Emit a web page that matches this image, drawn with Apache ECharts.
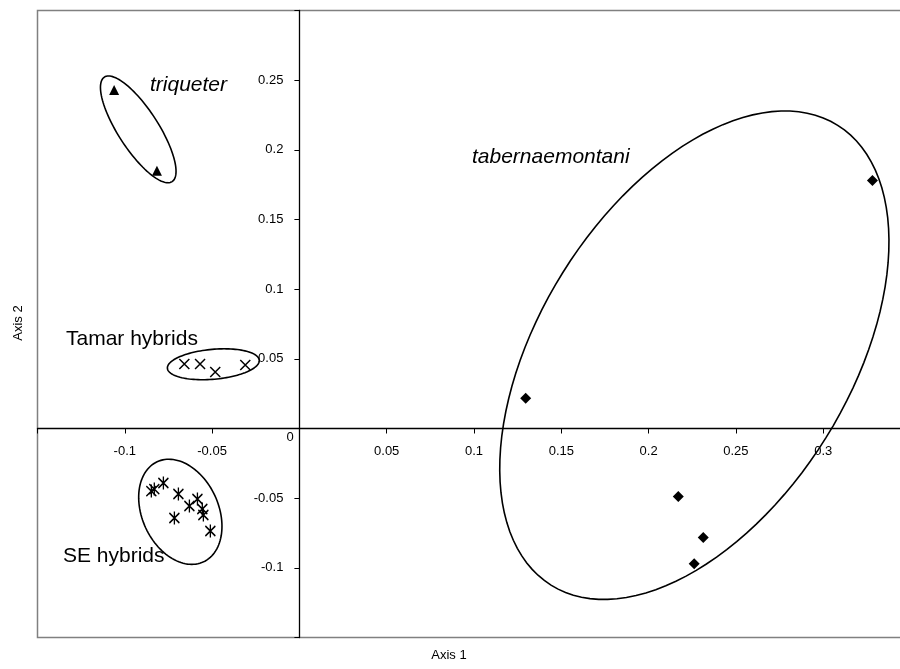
<!DOCTYPE html>
<html>
<head>
<meta charset="utf-8">
<script src="https://cdn.jsdelivr.net/npm/echarts@6/dist/echarts.min.js"></script>
<style>html,body{margin:0;padding:0;background:#fff}#c{width:900px;height:669px}</style>
</head>
<body>
<div id="c"></div>
<script>
// ---- data ----
const triqueterX = [-0.1061, -0.0816];
const triqueterY = [0.2430, 0.1850];
const tamarX = [-0.0659, -0.0569, -0.0482, -0.0310];
const tamarY = [0.0463, 0.0463, 0.0405, 0.0456];
const seX = [-0.0848, -0.0831, -0.0779, -0.0693, -0.0630, -0.0584, -0.0556, -0.0550, -0.0716, -0.0510];
const seY = [-0.0449, -0.0435, -0.0391, -0.0470, -0.0556, -0.0506, -0.0578, -0.0621, -0.0642, -0.0736];
const tabX = [0.1296, 0.2170, 0.2313, 0.2261, 0.3282];
const tabY = [0.0218, -0.0488, -0.0783, -0.0970, 0.1780];
// ellipses: [centreX, centreY, axis1EndX, axis1EndY, axis2EndX, axis2EndY]
const ellipseTriqueter = [-0.0923, 0.2147, -0.0729, 0.1772, -0.1019, 0.2068];
const ellipseTamar = [-0.0493, 0.0461, -0.0230, 0.0490, -0.0486, 0.0354];
const ellipseSE = [-0.0682, -0.0598, -0.0549, -0.0957, -0.0880, -0.0714];
const ellipseTab = [0.2262, 0.0526, 0.3083, 0.2176, 0.3016, -0.0066];
const xTicks = {min: -0.15, max: 0.35, step: 0.05};
const yTicks = {min: -0.15, max: 0.30, step: 0.05};

const zip = (xs, ys) => xs.map((x, i) => [x, ys[i]]);
const FONT = "'Liberation Sans', Arial, sans-serif";
const fmt = v => parseFloat(v.toFixed(3)).toString();

const GRID = {left: 37.5, top: 10.5, width: 873, height: 627};
// axes cross at zero: shift each axis from its grid edge to the zero line
const xAxisOffset = -GRID.height * (0 - yTicks.min) / (yTicks.max - yTicks.min);
const yAxisOffset = -GRID.width * (0 - xTicks.min) / (xTicks.max - xTicks.min);

const chart = echarts.init(document.getElementById('c'));
const crossPath = 'path://M0,0L10,10M10,0L0,10';
const starPath = 'path://M0,0L10,10M10,0L0,10M5,-1.5L5,11.5';

function ellipseItem(params, api) {
  const c = api.coord([api.value(0), api.value(1)]);
  const a = api.coord([api.value(2), api.value(3)]);
  const b = api.coord([api.value(4), api.value(5)]);
  const pts = [];
  const n = 120;
  for (let i = 0; i < n; i++) {
    const t = i / n * Math.PI * 2;
    pts.push([
      c[0] + (a[0] - c[0]) * Math.cos(t) + (b[0] - c[0]) * Math.sin(t),
      c[1] + (a[1] - c[1]) * Math.cos(t) + (b[1] - c[1]) * Math.sin(t)
    ]);
  }
  return {type: 'polygon', shape: {points: pts}, style: {fill: 'none', stroke: '#000', lineWidth: 1.6}};
}

const axisCommon = {
  axisTick: {show: true, length: 5, lineStyle: {color: '#000', width: 1}},
  splitLine: {show: false}
};

chart.setOption({
  animation: false,
  grid: Object.assign({show: true, borderColor: '#808080', borderWidth: 1.5, backgroundColor: '#fff', containLabel: false, outerBoundsMode: 'none'}, GRID),
  xAxis: Object.assign({
    type: 'value', min: xTicks.min, max: xTicks.max, interval: xTicks.step,
    position: 'bottom', offset: xAxisOffset,
    axisLine: {onZero: false, lineStyle: {color: '#000', width: 1.3}},
    axisLabel: {
      margin: 16, color: '#000', fontSize: 13, fontFamily: FONT,
      formatter: v => (Math.abs(v) < 1e-9 || v < -0.14 || v > 0.34) ? '' : fmt(v)
    }
  }, axisCommon),
  yAxis: Object.assign({
    type: 'value', min: yTicks.min, max: yTicks.max, interval: yTicks.step,
    position: 'left', offset: yAxisOffset,
    axisLine: {onZero: false, lineStyle: {color: '#000', width: 1.3}},
    axisLabel: {
      margin: 16, color: '#000', fontSize: 13, fontFamily: FONT,
      formatter: v => (Math.abs(v) < 1e-9 || v < -0.14 || v > 0.29) ? '' : fmt(v)
    }
  }, axisCommon),
  series: [
    {type: 'custom', renderItem: ellipseItem, encode: {x: [0, 2, 4], y: [1, 3, 5]},
     data: [ellipseTriqueter, ellipseTamar, ellipseSE, ellipseTab], z: 2, silent: true, clip: false},
    {type: 'scatter', data: zip(triqueterX, triqueterY), symbol: 'triangle', symbolSize: 10,
     itemStyle: {color: '#000', opacity: 1}, z: 3},
    {type: 'scatter', data: zip(tamarX, tamarY), symbol: crossPath, symbolSize: 10,
     itemStyle: {color: 'none', borderColor: '#000', borderWidth: 1.5, opacity: 1}, z: 3},
    {type: 'scatter', data: zip(seX, seY), symbol: starPath, symbolSize: [10, 13],
     itemStyle: {color: 'none', borderColor: '#000', borderWidth: 1.5, opacity: 1}, z: 3},
    {type: 'scatter', data: zip(tabX, tabY), symbol: 'diamond', symbolSize: 11,
     itemStyle: {color: '#000', opacity: 1}, z: 3}
  ],
  graphic: [
    {type: 'text', x: 290, y: 437, style: {text: '0', fill: '#000', font: '13px ' + FONT, textAlign: 'center', textVerticalAlign: 'middle'}, z: 10},
    {type: 'text', x: 449, y: 655, style: {text: 'Axis 1', fill: '#000', font: '13px ' + FONT, textAlign: 'center', textVerticalAlign: 'middle'}, z: 10},
    {type: 'text', x: 18, y: 323, rotation: Math.PI / 2, style: {text: 'Axis 2', fill: '#000', font: '13px ' + FONT, textAlign: 'center', textVerticalAlign: 'middle'}, z: 10},
    {type: 'text', x: 150, y: 85, style: {text: 'triqueter', fill: '#000', font: 'italic 21px ' + FONT, textAlign: 'left', textVerticalAlign: 'middle'}, z: 10},
    {type: 'text', x: 472, y: 157, style: {text: 'tabernaemontani', fill: '#000', font: 'italic 21px ' + FONT, textAlign: 'left', textVerticalAlign: 'middle'}, z: 10},
    {type: 'text', x: 66, y: 339, style: {text: 'Tamar hybrids', fill: '#000', font: '21px ' + FONT, textAlign: 'left', textVerticalAlign: 'middle'}, z: 10},
    {type: 'text', x: 63, y: 556, style: {text: 'SE hybrids', fill: '#000', font: '21px ' + FONT, textAlign: 'left', textVerticalAlign: 'middle'}, z: 10}
  ]
});
</script>
</body>
</html>
